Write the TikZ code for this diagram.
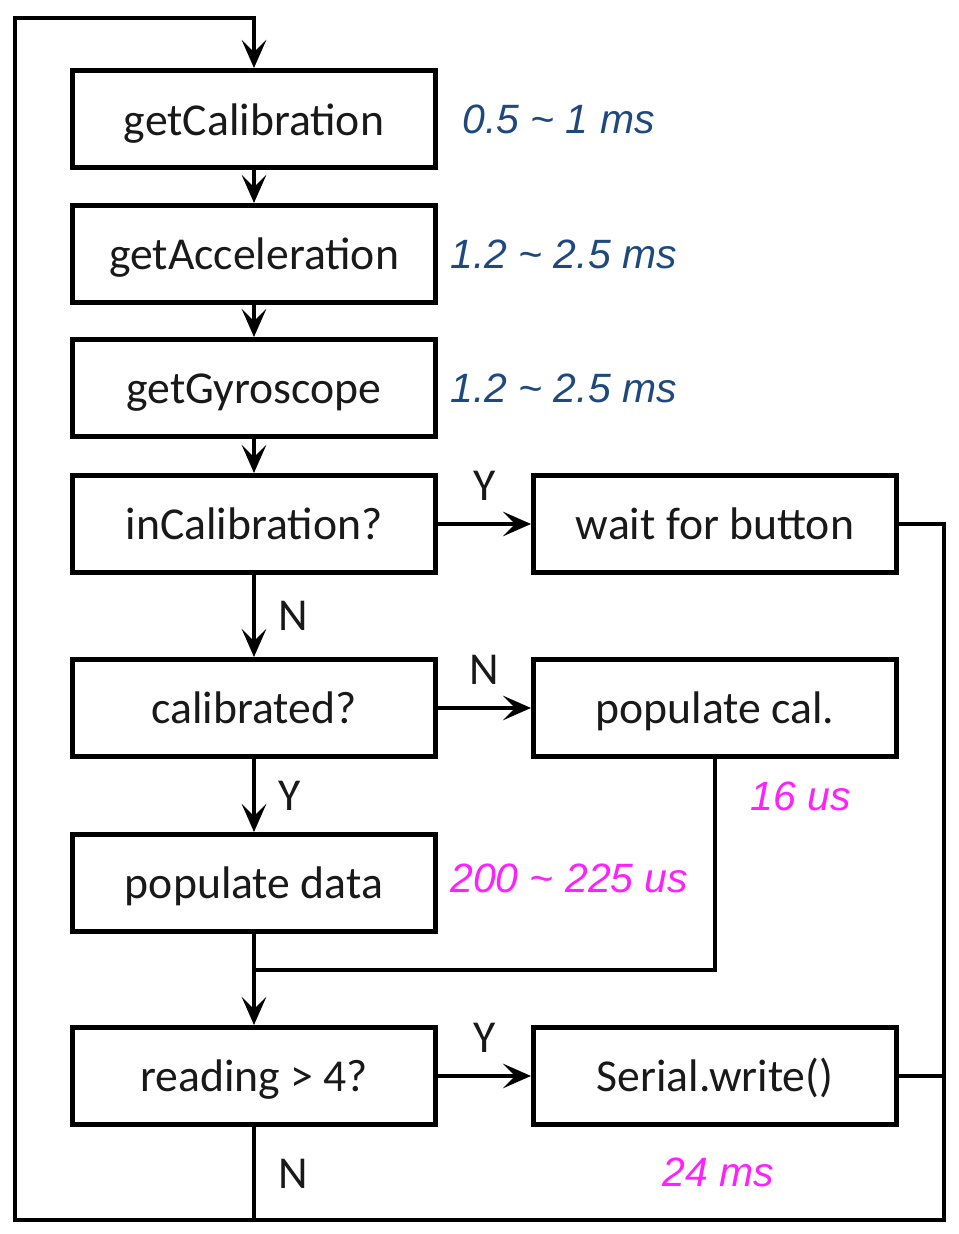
\documentclass[tikz,border=0pt]{standalone}
\usepackage{fontspec}
\setmainfont{Carlito}
\newfontfamily\annotfont{Liberation Sans}
\usetikzlibrary{arrows.meta,positioning}
\definecolor{timeblue}{HTML}{1F497D}
\definecolor{timepink}{HTML}{FF1FFF}

\begin{document}
\begin{tikzpicture}[
  node distance=0.66cm,
  box/.style={draw,line width=2.7pt,minimum width=7.265cm,minimum height=1.945cm,
    text height=0.8cm,text depth=0.16cm,font=\fontsize{26}{30}\selectfont,text=black!90},
  yn/.style={inner sep=0pt,font=\fontsize{26}{30}\selectfont,text=black!90},
  time/.style={inner sep=0pt,font=\annotfont\itshape\fontsize{23.3}{28}\selectfont},
  flow/.style={line width=2.2pt,-{Stealth[length=16pt,width=14pt,inset=7pt]}},
  wire/.style={line width=2.2pt}
]
\useasboundingbox (-5.08,2.38) rectangle (14.08,-22.30);

\node[box] (getcal) {getCalibration};
\node[box] (getacc) [below=of getcal] {getAcceleration};
\node[box] (getgyro) [below=0.64cm of getacc] {getGyroscope};
\node[box] (incal) [below=0.68cm of getgyro] {inCalibration?};
\node[box] (calib) [below=1.64cm of incal] {calibrated?};
\node[box] (popdata) [below=1.46cm of calib] {populate data};
\node[box] (reading) [below=1.82cm of popdata] {reading > 4?};
\node[box] (wait) [right=1.86cm of incal] {wait for button};
\node[box] (popcal) [right=1.86cm of calib] {populate cal.};
\node[box] (serial) [right=1.86cm of reading] {Serial.write()};

\coordinate (top) at ([yshift=1cm]getcal.north);
\coordinate (bot) at ([yshift=-1.86cm]reading.south);
\coordinate (lft) at ([xshift=-1.1cm]getcal.west);
\coordinate (rgt) at ([xshift=0.9cm]wait.east);
\coordinate (join) at ([yshift=-0.72cm]popdata.south);

\draw[flow] (getcal) -- (getacc);
\draw[flow] (getacc) -- (getgyro);
\draw[flow] (getgyro) -- (incal);
\draw[flow] (incal) -- node[yn,right=0.45cm] {N} (calib);
\draw[flow] (incal) -- node[yn,above=0.44cm] {Y} (wait);
\draw[flow] (calib) -- node[yn,above=0.44cm] {N} (popcal);
\draw[flow] (calib) -- node[yn,right=0.45cm] {Y} (popdata);
\draw[flow] (popdata) -- (reading);
\draw[wire] (popcal.south) |- (join);
\draw[flow] (reading) -- node[yn,above=0.44cm] {Y} (serial);
\draw[wire] (reading.south) -- node[yn,right=0.45cm] {N} (bot);
\draw[wire] (serial.east) -- (serial.east -| rgt);
% loop back to the top
\draw[flow] (wait.east) -| (rgt |- bot) -- (lft |- bot) |- (top) -- (getcal.north);

\node[time,text=timeblue] [right=0.48cm of getcal] {0.5 \textasciitilde{} 1 ms};
\node[time,text=timeblue] [right=0.24cm of getacc] {1.2 \textasciitilde{} 2.5 ms};
\node[time,text=timeblue] [right=0.24cm of getgyro] {1.2 \textasciitilde{} 2.5 ms};
\node[time,text=timepink] [right=0.24cm of popdata,yshift=0.1cm] {200 \textasciitilde{} 225 us};
\node[time,text=timepink] at ([shift={(1.72,-0.74)}]popcal.south) {16 us};
\node[time,text=timepink] at ([shift={(0.06,-0.9)}]serial.south) {24 ms};
\end{tikzpicture}
\end{document}
